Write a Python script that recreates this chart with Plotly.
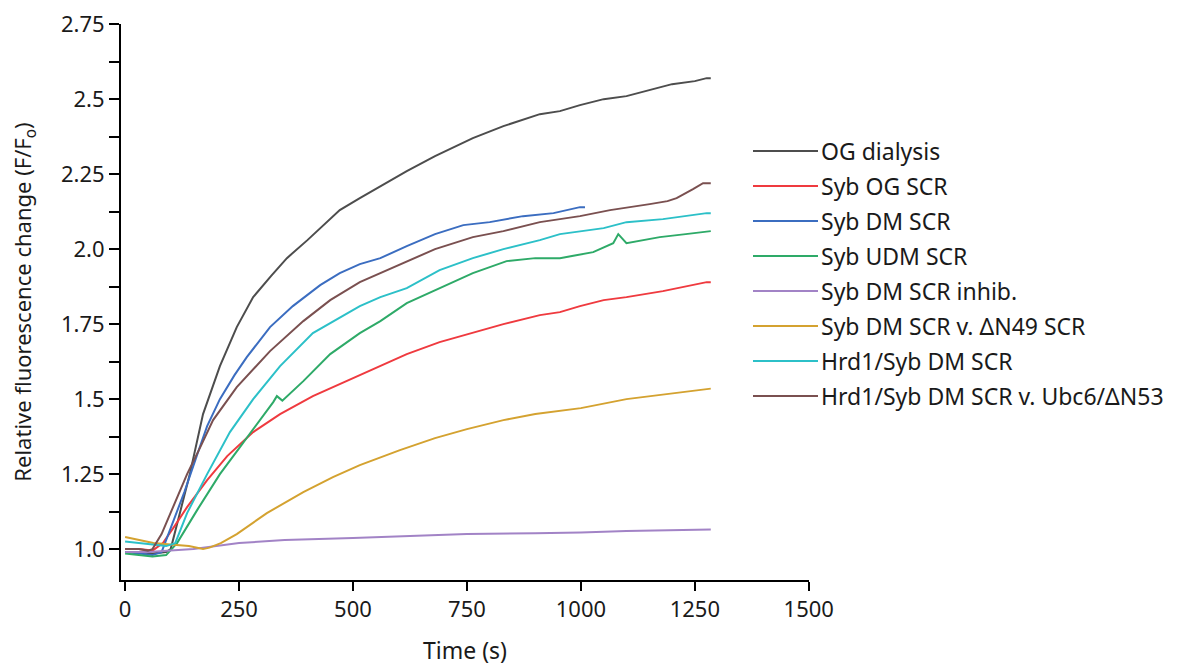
import plotly.graph_objects as go

# ---- data ----
names = ["OG dialysis", "Syb OG SCR", "Syb DM SCR", "Syb UDM SCR",
         "Syb DM SCR inhib.", "Syb DM SCR v. ΔN49 SCR", "Hrd1/Syb DM SCR",
         "Hrd1/Syb DM SCR v. Ubc6/ΔN53"]
colors = ["#4d4d4d", "#ef3a3f", "#3b6dc0", "#2eaa68",
          "#a283c6", "#d4a230", "#2cc0c8", "#7a5050"]

og_t = [0, 30, 60, 90, 100, 120, 142, 171, 208, 245, 281, 320, 355, 400, 428, 471, 515,
        560, 618, 680, 763, 830, 910, 954, 998, 1050, 1100, 1150, 1200, 1250, 1276, 1285]
og_v = [0.99, 0.99, 0.985, 0.99, 1.00, 1.12, 1.25, 1.45, 1.61, 1.74, 1.84, 1.91, 1.97, 2.03,
        2.07, 2.13, 2.17, 2.21, 2.26, 2.31, 2.37, 2.41, 2.45, 2.46, 2.48, 2.50, 2.51, 2.53,
        2.55, 2.56, 2.57, 2.57]

red_t = [0, 30, 60, 83, 110, 136, 180, 224, 281, 340, 412, 471, 515, 560, 618, 690, 763,
         830, 910, 954, 998, 1050, 1100, 1180, 1276, 1285]
red_v = [1.00, 1.00, 0.995, 1.02, 1.08, 1.14, 1.23, 1.31, 1.39, 1.45, 1.51, 1.55, 1.58,
         1.61, 1.65, 1.69, 1.72, 1.75, 1.78, 1.79, 1.81, 1.83, 1.84, 1.86, 1.89, 1.89]

blue_t = [0, 30, 60, 80, 100, 130, 157, 180, 208, 240, 267, 318, 368, 428, 471, 515, 560,
          618, 680, 742, 800, 873, 940, 998, 1009]
blue_v = [0.99, 0.985, 0.98, 0.99, 1.07, 1.19, 1.31, 1.41, 1.50, 1.58, 1.64, 1.74, 1.81,
          1.88, 1.92, 1.95, 1.97, 2.01, 2.05, 2.08, 2.09, 2.11, 2.12, 2.14, 2.14]

green_t = [0, 30, 60, 90, 114, 158, 208, 252, 296, 325, 333, 345, 391, 450, 515, 560, 618,
           690, 763, 837, 900, 954, 1027, 1071, 1082, 1100, 1173, 1230, 1276, 1285]
green_v = [0.985, 0.98, 0.975, 0.98, 1.02, 1.13, 1.25, 1.34, 1.43, 1.49, 1.51, 1.495, 1.56,
           1.65, 1.72, 1.76, 1.82, 1.87, 1.92, 1.96, 1.97, 1.97, 1.99, 2.02, 2.05, 2.02,
           2.04, 2.05, 2.06, 2.06]

purple_t = [0, 50, 100, 150, 250, 350, 500, 650, 750, 900, 1000, 1100, 1200, 1285]
purple_v = [0.99, 0.99, 0.995, 1.00, 1.02, 1.03, 1.037, 1.045, 1.05, 1.053, 1.055, 1.06,
            1.063, 1.065]

gold_t = [0, 30, 62, 100, 140, 171, 185, 210, 245, 311, 391, 456, 515, 603, 680, 750, 830,
          900, 1000, 1100, 1200, 1285]
gold_v = [1.04, 1.03, 1.02, 1.015, 1.01, 1.00, 1.005, 1.02, 1.05, 1.12, 1.19, 1.24, 1.28,
          1.33, 1.37, 1.40, 1.43, 1.45, 1.47, 1.50, 1.52, 1.535]

cyan_t = [0, 30, 60, 90, 110, 136, 180, 230, 281, 340, 412, 471, 515, 560, 618, 690, 763,
          830, 910, 954, 998, 1050, 1100, 1180, 1276, 1285]
cyan_v = [1.025, 1.02, 1.015, 1.01, 1.02, 1.12, 1.25, 1.39, 1.50, 1.61, 1.72, 1.77, 1.81,
          1.84, 1.87, 1.93, 1.97, 2.00, 2.03, 2.05, 2.06, 2.07, 2.09, 2.10, 2.12, 2.12]

brown_t = [0, 30, 50, 60, 80, 99, 136, 165, 193, 245, 318, 391, 450, 515, 560, 618, 680,
           763, 830, 910, 954, 998, 1064, 1110, 1151, 1190, 1210, 1246, 1268, 1285]
brown_v = [1.00, 1.00, 0.995, 1.00, 1.05, 1.12, 1.25, 1.34, 1.43, 1.54, 1.66, 1.76, 1.83,
           1.89, 1.92, 1.96, 2.00, 2.04, 2.06, 2.09, 2.10, 2.11, 2.13, 2.14, 2.15, 2.16,
           2.17, 2.20, 2.22, 2.22]

series = [(og_t, og_v), (red_t, red_v), (blue_t, blue_v), (green_t, green_v),
          (purple_t, purple_v), (gold_t, gold_v), (cyan_t, cyan_v), (brown_t, brown_v)]

x_ticks = [0, 250, 500, 750, 1000, 1250, 1500]
y_ticks = [1.0, 1.25, 1.5, 1.75, 2.0, 2.25, 2.5, 2.75]
y_labels = ["1.0", "1.25", "1.5", "1.75", "2.0", "2.25", "2.5", "2.75"]
y_minor = [1.125, 1.375, 1.625, 1.875, 2.125, 2.375, 2.625]

FONT = "Noto Sans"
TXT = "#1a1a1a"

W, H = 1182, 666
ML, MR, MT, MB = 121, 373, 24, 86
PW, PH = W - ML - MR, H - MT - MB

fig = go.Figure()
for name, col, (t, v) in zip(names, colors, series):
    fig.add_trace(go.Scatter(x=t, y=v, mode="lines", name=name,
                             line=dict(color=col, width=2), showlegend=False))

# legend drawn as line segments + text (paper coordinates)
leg_x0, leg_x1, leg_tx = 753, 818, 819      # figure pixels
leg_y0, leg_dy = 151, 35
shapes, annos = [], []
for i, (name, col) in enumerate(zip(names, colors)):
    yp = 1 - (leg_y0 + leg_dy * i - MT) / PH
    shapes.append(dict(type="line", xref="paper", yref="paper",
                       x0=(leg_x0 - ML) / PW, x1=(leg_x1 - ML) / PW, y0=yp, y1=yp,
                       line=dict(color=col, width=2)))
    annos.append(dict(xref="paper", yref="paper", x=(leg_tx - ML) / PW, y=yp,
                      xanchor="left", yanchor="middle", text=name, showarrow=False,
                      font=dict(family=FONT, size=23, color=TXT)))

fig.update_layout(
    width=W, height=H,
    margin=dict(l=ML, r=MR, t=MT, b=MB, autoexpand=False),
    paper_bgcolor="white", plot_bgcolor="white",
    font=dict(family=FONT, size=22, color=TXT),
    showlegend=False,
    shapes=shapes, annotations=annos,
    xaxis=dict(range=[-9, 1500.5], tickvals=x_ticks, showgrid=False, zeroline=False,
               automargin=False, ticklabeloverflow="allow",
               showline=True, linecolor="black", linewidth=2,
               ticks="outside", ticklen=9, tickwidth=2, tickcolor="black",
               tickfont=dict(family=FONT, size=22, color=TXT),
               title=dict(text="Time (s)", font=dict(family=FONT, size=23, color=TXT),
                          standoff=30)),
    yaxis=dict(range=[0.897, 2.7505], tickvals=y_ticks, ticktext=y_labels,
               showgrid=False, zeroline=False, automargin=False,
               ticklabeloverflow="allow",
               showline=True, linecolor="black", linewidth=2,
               ticks="outside", ticklen=10, tickwidth=2, tickcolor="black",
               tickfont=dict(family=FONT, size=22, color=TXT),
               minor=dict(tickvals=y_minor, ticks="outside", ticklen=10, tickwidth=2,
                          tickcolor="black"),
               title=dict(text="Relative fluorescence change (F/F<sub>o</sub>)",
                          font=dict(family=FONT, size=22, color=TXT), standoff=23)),
)

fig.write_html("out.html",
               config={"displayModeBar": False},
               post_script="document.body.style.margin='0';document.body.style.overflow='hidden';")
